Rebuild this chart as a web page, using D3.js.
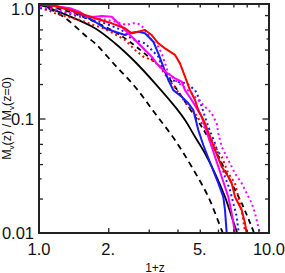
<!DOCTYPE html>
<html>
<head>
<meta charset="utf-8">
<script src="https://cdn.jsdelivr.net/npm/d3@7"></script>
<style>
  html, body { margin: 0; padding: 0; background: #fff; }
  svg { display: block; font-family: "Liberation Sans", Arial, sans-serif; }
</style>
</head>
<body>
<svg id="chart" width="285" height="273"></svg>
<script>
// axis labels
const xLabelVals = [1, 2, 5, 10];
const xLabelText = ["1.0", "2.", "5.", "10.0"];
const yLabelVals = [1, 0.1, 0.01];
const yLabelText = ["1.0", "0.1", "0.01"];

// series: [1+z, M(z)/M(z=0)]
const blackSolid = [[1,1],[1.319,0.801],[1.752,0.614],[2.14,0.454],[2.615,0.313],[3.194,0.203],[3.902,0.127],[4.313,0.097],[4.767,0.0693],[5.268,0.0497],[5.823,0.0332],[6.437,0.0207],[6.883,0.0139],[7.236,0.0103],[7.4,0.009]];
const blackDashL = [[1,1],[1.276,0.775],[1.612,0.518],[1.752,0.454],[2.14,0.293],[2.615,0.1895],[3.194,0.111],[3.902,0.0649],[4.612,0.0379],[5.446,0.0207],[6.226,0.0106],[6.457,0.0089]];
const blackDashR = [[1,1],[1.364,0.851],[1.752,0.696],[2.25,0.536],[2.987,0.348],[3.416,0.274],[3.902,0.1895],[4.458,0.127],[5.098,0.0848],[5.823,0.0531],[6.653,0.031],[7.606,0.0182],[8.41,0.0113],[8.7,0.0095]];

const redSolid = [[1,1],[1.174,0.961],[1.364,0.886],[1.585,0.801],[1.752,0.75],[2.071,0.678],[2.365,0.614],[2.529,0.555],[2.702,0.573],[2.889,0.593],[3.09,0.536],[3.301,0.454],[3.53,0.41],[3.902,0.359],[4.102,0.303],[4.313,0.232],[4.534,0.177],[4.767,0.145],[4.927,0.1186],[5.268,0.0908],[5.54,0.0693],[5.823,0.0531],[6.226,0.0379],[6.653,0.031],[6.883,0.0272],[7.114,0.0207],[7.606,0.0159],[7.864,0.0122],[7.998,0.0099],[8.02,0.009]];
const blueSolid = [[1,1],[1.174,0.961],[1.364,0.886],[1.585,0.786],[1.752,0.7],[1.936,0.614],[2.14,0.573],[2.365,0.536],[2.444,0.555],[2.702,0.573],[2.889,0.555],[3.141,0.4685],[3.301,0.371],[3.47,0.2834],[3.649,0.217],[3.836,0.177],[4.173,0.155],[4.458,0.1358],[4.688,0.1186],[4.927,0.0793],[5.179,0.0587],[5.635,0.0379],[6.02,0.0272],[6.328,0.0207],[6.437,0.0159],[6.548,0.0099],[6.56,0.009]];
const magentaSolid = [[1,1],[1.174,0.961],[1.364,0.917],[1.508,0.851],[1.612,0.775],[1.752,0.775],[1.874,0.786],[2.071,0.775],[2.212,0.678],[2.365,0.593],[2.529,0.518],[2.702,0.454],[2.889,0.397],[3.09,0.3465],[3.249,0.303],[3.53,0.2563],[3.902,0.2245],[4.173,0.2096],[4.313,0.177],[4.612,0.145],[5.098,0.1037],[5.446,0.0693],[5.823,0.0464],[6.226,0.031],[6.653,0.0207],[6.883,0.0149],[7.114,0.0099],[7.15,0.009]];

const redDot = [[1.01,0.923],[1.116,0.869],[1.194,0.818],[1.319,0.775],[1.508,0.725],[1.722,0.656],[1.904,0.614],[2.104,0.555],[2.365,0.485],[2.615,0.397],[2.842,0.3465],[3.09,0.324],[3.301,0.293],[3.592,0.232],[3.97,0.177],[4.458,0.127],[4.767,0.111],[5.098,0.0908],[5.446,0.0743],[5.823,0.0567],[6.226,0.0464],[6.653,0.0332],[7.114,0.0272],[7.356,0.0207],[7.606,0.0159],[7.864,0.0103],[7.9,0.0095]];
const blueDot = [[1.01,0.923],[1.116,0.895],[1.319,0.829],[1.612,0.75],[1.936,0.678],[2.289,0.593],[2.444,0.518],[2.615,0.485],[2.889,0.454],[3.09,0.397],[3.301,0.3465],[3.416,0.2834],[3.53,0.248],[3.776,0.217],[4.034,0.2084],[4.387,0.203],[4.767,0.177],[4.927,0.155],[5.098,0.127],[5.268,0.1037],[5.446,0.0848],[5.823,0.0607],[6.123,0.0434],[6.437,0.031],[6.767,0.0237],[6.997,0.0182],[7.236,0.0139],[7.356,0.0106],[7.4,0.0095]];
const magentaDot = [[1.01,0.942],[1.154,0.904],[1.364,0.834],[1.612,0.77],[1.842,0.74],[2.104,0.71],[2.406,0.656],[2.529,0.678],[2.66,0.678],[2.777,0.656],[2.889,0.593],[3.09,0.485],[3.301,0.424],[3.416,0.371],[3.53,0.303],[3.649,0.248],[3.902,0.217],[4.241,0.1895],[4.612,0.166],[4.927,0.145],[5.268,0.127],[5.635,0.111],[5.924,0.0908],[6.02,0.0743],[6.226,0.0567],[6.653,0.0434],[7.114,0.0332],[7.606,0.0272],[7.998,0.0222],[8.41,0.0182],[8.693,0.0149],[8.985,0.0113],[9.139,0.0099],[9.2,0.0095]];

const plotLeft = 39, plotRight = 269, plotTop = 4, plotBottom = 233;

const svg = d3.select("#chart");

const x = d3.scaleLog().domain([1, 10]).range([plotLeft, plotRight]);
const y = d3.scaleLog().domain([0.01, 1]).range([plotBottom, plotTop]);

svg.append("defs").append("clipPath").attr("id", "plotclip")
  .append("rect")
  .attr("x", plotLeft).attr("y", plotTop)
  .attr("width", plotRight - plotLeft).attr("height", plotBottom - plotTop);

const plot = svg.append("g").attr("clip-path", "url(#plotclip)");

const lineSmooth = d3.line()
  .x(d => x(d[0])).y(d => y(d[1]))
  .curve(d3.curveCatmullRom);
const lineRough = d3.line()
  .x(d => x(d[0])).y(d => y(d[1]));

function draw(data, color, width, dash, gen) {
  plot.append("path")
    .datum(data)
    .attr("d", gen)
    .attr("fill", "none")
    .attr("stroke", color)
    .attr("stroke-width", width)
    .attr("stroke-dasharray", dash)
    .attr("stroke-linejoin", "round");
}

draw(blackDashL, "#000", 1.8, "6,4.5", lineSmooth);
draw(blackDashR, "#000", 1.8, "5,4", lineSmooth);
draw(blackSolid, "#000", 1.8, null, lineSmooth);

draw(redDot, "#ff0000", 2, "2,3", lineRough);
draw(blueDot, "#1a1aff", 2, "2,3", lineRough);
draw(magentaDot, "#ff00ff", 2, "2,3", lineRough);

draw(blueSolid, "#1a1aff", 2, null, lineRough);
draw(magentaSolid, "#ff00ff", 2, null, lineRough);
draw(redSolid, "#ff0000", 2, null, lineRough);

// ticks, pointing inward on all four sides
const tickColor = "#222";
function axisTicks(axis, tx, ty) {
  const g = svg.append("g").attr("transform", `translate(${tx},${ty})`).call(axis);
  g.select(".domain").remove();
  g.selectAll("text").remove();
  g.selectAll("line").attr("stroke", tickColor).attr("stroke-width", 1.3);
}
const xMinor = [3, 4, 5, 6, 7, 8, 9];
axisTicks(d3.axisBottom(x).tickValues(xMinor).tickSize(-3.5), 0, plotBottom);
axisTicks(d3.axisBottom(x).tickValues([2]).tickSize(-5), 0, plotBottom);
axisTicks(d3.axisTop(x).tickValues(xMinor).tickSize(-3.5), 0, plotTop);
axisTicks(d3.axisTop(x).tickValues([2]).tickSize(-5), 0, plotTop);

const yMid = [0.8, 0.6, 0.4, 0.2, 0.08, 0.06, 0.04, 0.02];
const yShort = [0.5, 0.3, 0.05, 0.03];
axisTicks(d3.axisLeft(y).tickValues(yMid).tickSize(-4), plotLeft, 0);
axisTicks(d3.axisLeft(y).tickValues(yShort).tickSize(-2.5), plotLeft, 0);
axisTicks(d3.axisLeft(y).tickValues([0.1]).tickSize(-6.5), plotLeft, 0);
axisTicks(d3.axisRight(y).tickValues(yMid).tickSize(-4), plotRight, 0);
axisTicks(d3.axisRight(y).tickValues(yShort).tickSize(-2.5), plotRight, 0);
axisTicks(d3.axisRight(y).tickValues([0.1]).tickSize(-6.5), plotRight, 0);

// frame
svg.append("rect")
  .attr("x", plotLeft).attr("y", plotTop)
  .attr("width", plotRight - plotLeft).attr("height", plotBottom - plotTop)
  .attr("fill", "none")
  .attr("stroke", tickColor)
  .attr("stroke-width", 2);

// tick labels
svg.selectAll(".xlab")
  .data(xLabelVals)
  .join("text")
  .attr("x", d => x(d))
  .attr("y", 255)
  .attr("text-anchor", "middle")
  .attr("font-size", 16.5)
  .attr("fill", "#111")
  .text((d, i) => xLabelText[i]);

svg.selectAll(".ylab")
  .data(yLabelVals)
  .join("text")
  .attr("x", 34)
  .attr("y", d => Math.max(y(d) + 6, 14.5))
  .attr("text-anchor", "end")
  .attr("font-size", 16.5)
  .attr("fill", "#111")
  .text((d, i) => yLabelText[i]);

// axis titles
svg.append("text")
  .attr("x", 155).attr("y", 271.5)
  .attr("text-anchor", "middle")
  .attr("font-size", 12)
  .attr("fill", "#111")
  .text("1+z");

const yt = svg.append("text")
  .attr("transform", "translate(11,118.5) rotate(-90)")
  .attr("text-anchor", "middle")
  .attr("font-size", 12.5)
  .attr("fill", "#111");
yt.append("tspan").text("M");
yt.append("tspan").attr("font-size", 8).attr("dy", 2.5).text("v");
yt.append("tspan").attr("dy", -2.5).text("(z) / M");
yt.append("tspan").attr("font-size", 8).attr("dy", 2.5).text("v");
yt.append("tspan").attr("dy", -2.5).text("(z=0)");
</script>
</body>
</html>
